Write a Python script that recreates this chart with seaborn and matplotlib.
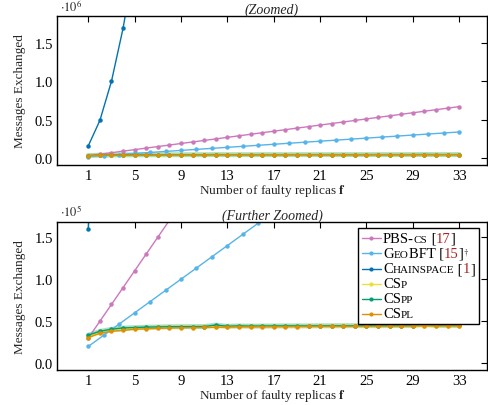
import numpy as np
import pandas as pd
import matplotlib
matplotlib.use("Agg")
import matplotlib.pyplot as plt
import seaborn as sns
from matplotlib.offsetbox import TextArea, HPacker, VPacker, DrawingArea, AnchoredOffsetbox
from matplotlib.lines import Line2D
from matplotlib.ticker import FuncFormatter, FixedLocator

# ---------------- data ----------------
f_vals = list(range(1, 34))
pbs_cs = [30000, 50000, 70000, 90000, 110000, 130000, 150000, 170000, 190000, 210000,
          230000, 250000, 270000, 290000, 310000, 330000, 350000, 370000, 390000, 410000,
          430000, 450000, 470000, 490000, 510000, 530000, 550000, 570000, 590000, 610000,
          630000, 650000, 670000]
geo_f = [1, 7/3, 11/3, 5, 19/3, 23/3, 9, 31/3, 35/3, 13, 43/3, 47/3, 17, 55/3, 59/3,
         21, 67/3, 71/3, 25, 79/3, 83/3, 29, 91/3, 95/3, 33]
geobft = [20000, 33333, 46667, 60000, 73333, 86667, 100000, 113333, 126667, 140000,
          153333, 166667, 180000, 193333, 206667, 220000, 233333, 246667, 260000, 273333,
          286667, 300000, 313333, 326667, 340000]
chainspace = [160000, 490000, 1000000, 1690000, 2560000, 3610000, 4840000, 6250000,
              7840000, 9610000, 11560000, 13690000, 16000000, 18490000, 21160000,
              24010000, 27040000, 30250000, 33640000, 37210000, 40960000, 44890000,
              49000000, 53290000, 57760000, 62410000, 67240000, 72250000, 77440000,
              82810000, 88360000, 94090000, 100000000]
csp = [32000, 37000, 39500, 41000, 41800, 42200, 42600, 43000, 43200, 43300, 43400,
       43600, 43700, 43800, 43900, 44000, 44000, 44100, 44200, 44200, 44300, 44300,
       44400, 44400, 44500, 44500, 44500, 44600, 44600, 44700, 44700, 44700, 44800]
cspp = [33500, 38000, 40500, 42000, 42500, 43000, 43200, 43500, 43500, 43600, 43700,
        45500, 44000, 44500, 44200, 44300, 44400, 44500, 44500, 44500, 44600, 44600,
        44700, 44700, 44800, 44800, 44800, 44900, 44900, 46500, 45000, 45000, 45000]
cspl = [30500, 35700, 38000, 39000, 40500, 41000, 41500, 42000, 42300, 42500, 42600,
        42800, 43000, 43200, 43300, 43400, 43500, 43600, 43700, 43800, 43800, 43900,
        44000, 44000, 44100, 44200, 44200, 44300, 44300, 44400, 44400, 44500, 44500]

series_names = ["PBS-cs", "GeoBFT", "Chainspace", "CSp", "CSpp", "CSpl"]
colors = {"PBS-cs": "#CC78BC", "GeoBFT": "#56B4E9", "Chainspace": "#0173B2",
          "CSp": "#ECE133", "CSpp": "#029E73", "CSpl": "#DE8F05"}
x_ticks = [1, 5, 9, 13, 17, 21, 25, 29, 33]

rows = []
for name, xs, ys in [("PBS-cs", f_vals, pbs_cs), ("GeoBFT", geo_f, geobft),
                     ("Chainspace", f_vals, chainspace), ("CSp", f_vals, csp),
                     ("CSpp", f_vals, cspp), ("CSpl", f_vals, cspl)]:
    for x, y in zip(xs, ys):
        rows.append({"series": name, "f": x, "msgs": y})
df = pd.DataFrame(rows)

# ---------------- style ----------------
sns.set_style("white")
plt.rcParams["font.family"] = ["Liberation Serif", "DejaVu Serif"]
plt.rcParams["mathtext.fontset"] = "stix"

fig = plt.figure(figsize=(4.88, 4.06), dpi=100)
ax1 = fig.add_axes([57/488, 1-166/406, (487-57)/488, (166-17)/406])
ax2 = fig.add_axes([57/488, 1-371/406, (487-57)/488, (371-223)/406])

def draw(ax):
    halo = df[df.series.isin(["CSp", "CSpp"])]
    sns.lineplot(data=halo, x="f", y="msgs", hue="series", palette=colors,
                 hue_order=["CSp", "CSpp"], linewidth=3.5, alpha=0.3,
                 estimator=None, sort=False, legend=False, ax=ax)
    sns.lineplot(data=df, x="f", y="msgs", hue="series", palette=colors,
                 hue_order=series_names, marker="o", markersize=3.2,
                 markeredgewidth=0, linewidth=1.0, estimator=None, sort=False,
                 legend=False, ax=ax)

draw(ax1)
draw(ax2)

for ax in (ax1, ax2):
    ax.set_xlim(-1.7, 35.4)
    ax.xaxis.set_major_locator(FixedLocator(x_ticks))
    ax.tick_params(direction="in", top=True, right=True, length=4, width=0.8,
                   labelsize=10.5, pad=3, colors="black")
    for s in ax.spines.values():
        s.set_linewidth(1.0)
        s.set_color("black")
    ax.set_xlabel(r"Number of faulty replicas $\mathbf{f}$", fontsize=9.5, labelpad=0)
    ax.set_ylabel("Messages Exchanged", fontsize=9.5)
    ax.yaxis.set_label_coords(-0.072, 0.5)

ax1.set_ylim(-0.09e6, 1.85e6)
ax1.yaxis.set_major_locator(FixedLocator([0, 0.5e6, 1.0e6, 1.5e6]))
ax1.yaxis.set_major_formatter(FuncFormatter(lambda v, p: f"{v/1e6:.1f}"))
ax1.text(0.006, 1 + 5/149, r"$\cdot 10^{6}$", transform=ax1.transAxes, ha="left",
         va="baseline", fontsize=9)
ax1.set_title("(Zoomed)", fontsize=10, style="italic", pad=2.5)

ax2.set_ylim(-0.08e5, 1.68e5)
ax2.yaxis.set_major_locator(FixedLocator([0, 0.5e5, 1.0e5, 1.5e5]))
ax2.yaxis.set_major_formatter(FuncFormatter(lambda v, p: f"{v/1e5:.1f}"))
ax2.text(0.006, 1 + 6/148, r"$\cdot 10^{5}$", transform=ax2.transAxes, ha="left",
         va="baseline", fontsize=9)
ax2.set_title("(Further Zoomed)", fontsize=10, style="italic", pad=2.5)

# ---------------- custom legend with small caps / red refs ----------------
BIG = 10.5
SMALL = 8
RED = "#B22222"

def ta(t, size=BIG, color="black"):
    return TextArea(t, textprops=dict(fontsize=size, color=color,
                                      family=["Liberation Serif"]))

def handle(color):
    da = DrawingArea(14, 7, 0, 0)
    da.add_artist(Line2D([0, 14], [3.5, 3.5], color=color, lw=1.0))
    da.add_artist(Line2D([7], [3.5], color=color, marker="o", ms=3, mew=0))
    return da

label_parts = {
    "PBS-cs": [ta("PBS-"), ta("CS", SMALL), ta(" ["), ta("17", color=RED), ta("]")],
    "GeoBFT": [ta("G"), ta("EO", SMALL), ta("BFT ["), ta("15", color=RED), ta("]"),
               TextArea(r"$^{\dagger}$", textprops=dict(fontsize=9))],
    "Chainspace": [ta("C"), ta("HAINSPACE", SMALL), ta(" ["), ta("1", color=RED), ta("]")],
    "CSp": [ta("CS"), ta("P", SMALL)],
    "CSpp": [ta("CS"), ta("PP", SMALL)],
    "CSpl": [ta("CS"), ta("PL", SMALL)],
}

rows_box = []
for name in series_names:
    txt = HPacker(children=label_parts[name], align="baseline", pad=0, sep=0)
    rows_box.append(HPacker(children=[handle(colors[name]), txt], align="center",
                            pad=0, sep=1.5))
vbox = VPacker(children=rows_box, align="left", pad=0, sep=1.5)
anch = AnchoredOffsetbox(loc="upper right", child=vbox, pad=0.25, borderpad=0.3,
                         frameon=True, bbox_to_anchor=(0.99, 0.985),
                         bbox_transform=ax2.transAxes)
anch.patch.set_edgecolor("black")
anch.patch.set_linewidth(1.0)
anch.patch.set_boxstyle("square", pad=0)
ax2.add_artist(anch)

fig.savefig("out.png", dpi=100)
